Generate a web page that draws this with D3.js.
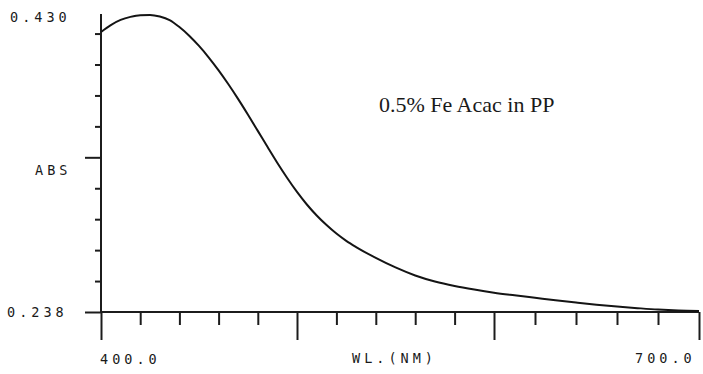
<!DOCTYPE html>
<html>
<head>
<meta charset="utf-8">
<script src="https://cdn.jsdelivr.net/npm/d3@7"></script>
<style>
  html, body { margin: 0; padding: 0; background: #ffffff; }
  svg { display: block; }
  .mono { font-family: "DejaVu Sans Mono", "Liberation Mono", monospace; font-size: 13.5px; letter-spacing: 4px; fill: #1a1a1a; }
  .note { font-family: "Liberation Serif", "Times New Roman", serif; font-size: 22px; fill: #1a1a1a; }
</style>
</head>
<body>
<svg id="chart" width="703" height="374"></svg>
<script>
// Absorbance spectrum, 0.5% Fe(acac) in polypropylene
const wavelengths = [400, 405, 410, 415, 420, 425, 430, 435, 440, 445, 450, 455, 460, 465, 470,
  475, 480, 485, 490, 495, 500, 505, 510, 515, 520, 525, 530, 540, 550, 560, 570, 580, 590, 600,
  610, 620, 630, 640, 650, 660, 670, 680, 690, 700];
const absorbance = [0.4190, 0.4235, 0.4268, 0.4288, 0.4299, 0.4300, 0.4290, 0.4267, 0.4222, 0.4166,
  0.4100, 0.4025, 0.3942, 0.3852, 0.3756, 0.3655, 0.3551, 0.3446, 0.3343, 0.3246, 0.3156,
  0.3075, 0.3004, 0.2942, 0.2887, 0.2840, 0.2800, 0.2730, 0.2668, 0.2616, 0.2577, 0.2548,
  0.2525, 0.2505, 0.2488, 0.2472, 0.2456, 0.2441, 0.2427, 0.2415, 0.2405, 0.2396, 0.2390, 0.2387];

// Axis ranges and ticks
const absMin = 0.238, absMax = 0.430;
const absTicks = [0.238, 0.258, 0.278, 0.298, 0.318, 0.338, 0.358, 0.378, 0.398, 0.418];
const absMajor = [0.238, 0.338];
const wlTicks = [400, 420, 440, 460, 480, 500, 520, 540, 560, 580, 600, 620, 640, 660, 680, 700];
const wlMajor = [400, 500, 600, 700];
const yLabelTop = "0.430", yLabelBottom = "0.238", yTitle = "ABS";
const xLabelLeft = "400.0", xLabelRight = "700.0", xTitle = "WL.(NM)";
const note = "0.5% Fe Acac in PP";

const svg = d3.select("#chart");
const ink = "#1c1c1c";

// plotter scales (pen plotter drift gives slightly uneven decades)
const x = d3.scaleLinear().domain([400, 500, 600, 700]).range([101, 297, 494, 699]);
const y = d3.scaleLinear().domain([absMin, absMax]).range([312, 15]);

// Y axis
const yAxis = svg.append("g")
  .attr("transform", `translate(${x(400)},0)`)
  .call(d3.axisLeft(y).tickValues(absTicks).tickSize(6).tickSizeOuter(0).tickFormat(""));
yAxis.select(".domain").attr("stroke", ink).attr("stroke-width", 2)
  .attr("d", `M0,${y(absMax) - 1}V${y(absMin)}`);
yAxis.selectAll(".tick line").attr("stroke", ink).attr("stroke-width", 2)
  .attr("x2", d => absMajor.includes(d) ? -16 : -6);

// X axis
const xAxis = svg.append("g")
  .attr("transform", `translate(0,${y(absMin)})`)
  .call(d3.axisBottom(x).tickValues(wlTicks).tickSize(13).tickSizeOuter(0).tickFormat(""));
xAxis.select(".domain").attr("stroke", ink).attr("stroke-width", 2)
  .attr("d", `M${x(400)},0H${x(700)}`);
xAxis.selectAll(".tick line").attr("stroke", ink).attr("stroke-width", 2)
  .attr("y2", d => wlMajor.includes(d) ? 28 : 13);

// Spectrum trace
const line = d3.line()
  .x((d, i) => x(wavelengths[i]))
  .y(d => y(d))
  .curve(d3.curveMonotoneX);
svg.append("path")
  .datum(absorbance)
  .attr("fill", "none")
  .attr("stroke", "#141414")
  .attr("stroke-width", 2)
  .attr("d", line);

// Labels
svg.append("text").attr("class", "mono").attr("x", 10).attr("y", y(absMax) + 7).text(yLabelTop);
svg.append("text").attr("class", "mono").attr("x", 7).attr("y", y(absMin) + 5).text(yLabelBottom);
svg.append("text").attr("class", "mono").attr("x", 35).attr("y", 175).text(yTitle);
svg.append("text").attr("class", "mono").attr("x", x(400) - 1).attr("y", 364).text(xLabelLeft);
svg.append("text").attr("class", "mono").attr("x", 352).attr("y", 363).text(xTitle);
svg.append("text").attr("class", "mono").attr("x", x(700) - 64).attr("y", 363).text(xLabelRight);

svg.append("text").attr("class", "note").attr("x", 379).attr("y", 112).text(note);
</script>
</body>
</html>
